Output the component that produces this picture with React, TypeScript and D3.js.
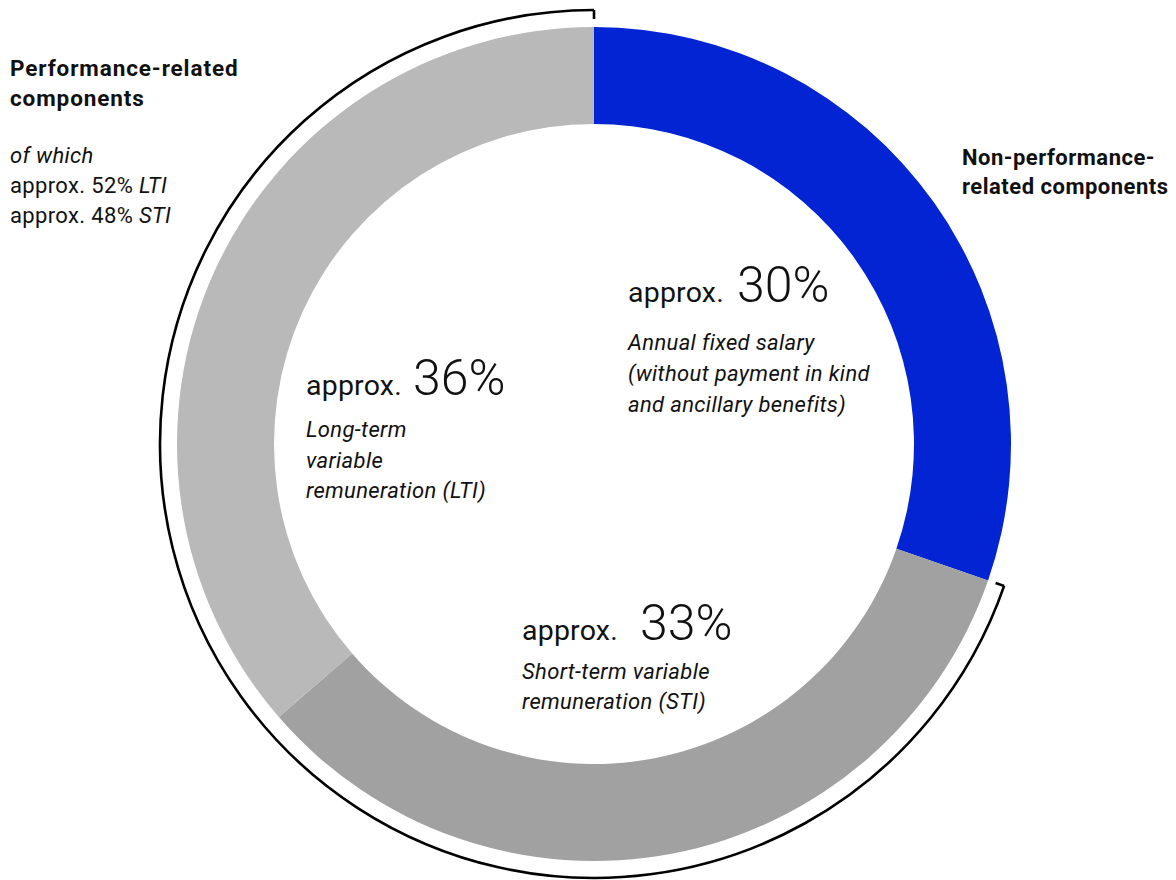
import React from "react";
import * as d3 from "d3";

const categories = ["Annual fixed salary", "Short-term variable remuneration (STI)", "Long-term variable remuneration (LTI)"];
const values = [30, 33, 36];
const colors = ["#0224d2", "#a1a1a1", "#b9b9b9"];
const percentLabels = ["30%", "33%", "36%"];
const descLines = [
  ["Annual fixed salary", "(without payment in kind", "and ancillary benefits)"],
  ["Short-term variable", "remuneration (STI)"],
  ["Long-term", "variable", "remuneration (LTI)"],
];

const W = 1176, H = 880;
const cx = 594, cy = 444;
const rOuter = 417, rInner = 320, rBracket = 434;
const FONT = "Roboto, 'Open Sans', sans-serif";

export default function App() {
  const pie = d3.pie<number>().sort(null).value((d) => d);
  const arcs = pie(values);
  const arcGen = d3.arc<d3.PieArcDatum<number>>().innerRadius(rInner).outerRadius(rOuter);

  const bStart = arcs[1].startAngle;
  const bEnd = arcs[2].endAngle;
  const pt = (a: number, r: number) => [cx + r * Math.sin(a), cy - r * Math.cos(a)];
  const bracketArc = d3.arc()({ innerRadius: rBracket, outerRadius: rBracket, startAngle: bStart, endAngle: bEnd } as any);
  const tick = 9;
  const [s1x, s1y] = pt(bStart, rBracket - tick);
  const [s2x, s2y] = pt(bStart, rBracket);
  const [e1x, e1y] = pt(bEnd, rBracket);
  const [e2x, e2y] = pt(bEnd, rBracket - tick);

  const labelPos = [
    { x: 628, y: 302, gap: 13, descY: 350, step: 31 },
    { x: 522, y: 640, gap: 22, descY: 679, step: 30 },
    { x: 306, y: 395, gap: 11, descY: 437, step: 30.5 },
  ];

  const reg = { fontSize: 22, letterSpacing: 0.35, fill: "#111" };
  const bold = { fontSize: 22.5, letterSpacing: 0.9, fontWeight: 700, fill: "#111" };
  const boldR = { fontSize: 22, letterSpacing: 0.5, fontWeight: 700, fill: "#111" };

  return (
    <svg width={W} height={H} style={{ position: "absolute", left: 0, top: 0 }} fontFamily={FONT}>
      <g>
        {arcs.map((a, i) => (
          <path key={i} d={arcGen(a) as string} transform={`translate(${cx},${cy})`} fill={colors[i]} />
        ))}
      </g>
      <path
        d={bracketArc as string}
        transform={`translate(${cx},${cy})`}
        fill="none"
        stroke="#000"
        strokeWidth={2.6}
      />
      <line x1={s1x} y1={s1y} x2={s2x} y2={s2y} stroke="#000" strokeWidth={2.6} />
      <line x1={e1x} y1={e1y} x2={e2x} y2={e2y} stroke="#000" strokeWidth={2.6} />

      {labelPos.map((p, i) => (
        <g key={i}>
          <text x={p.x} y={p.y} fill="#111">
            <tspan fontSize={28.5} fontWeight={400} letterSpacing={0.2}>approx.</tspan>
            <tspan dx={p.gap} fontSize={50} fontWeight={300}>{percentLabels[i]}</tspan>
          </text>
          {descLines[i].map((l, j) => (
            <text key={j} x={p.x} y={p.descY + j * p.step} fontStyle="italic" {...reg}>
              {l}
            </text>
          ))}
        </g>
      ))}

      <text x={10} y={76} {...bold}>Performance-related</text>
      <text x={10} y={106} {...bold}>components</text>
      <text x={10} y={163} fontStyle="italic" {...reg}>of which</text>
      <text x={10} y={193} {...reg}>
        approx. 52% <tspan fontStyle="italic">LTI</tspan>
      </text>
      <text x={10} y={223} {...reg}>
        approx. 48% <tspan fontStyle="italic">STI</tspan>
      </text>

      <text x={962} y={165} {...boldR}>Non-performance-</text>
      <text x={962} y={194} {...boldR}>related components</text>
    </svg>
  );
}
